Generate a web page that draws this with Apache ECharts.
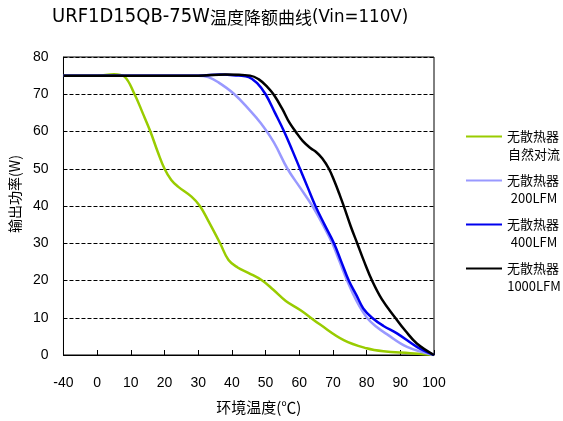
<!DOCTYPE html>
<html><head><meta charset="utf-8">
<script src="https://cdn.jsdelivr.net/npm/echarts@6/dist/echarts.min.js"></script>
<style>html,body{margin:0;padding:0;background:#fff}#c{width:563px;height:421px}</style>
</head><body><div id="c"></div>
<script>
const xTickLabels = ['-40','0','10','20','30','40','50','60','70','80','90','100'];
const yTicks = [0,10,20,30,40,50,60,70,80];
const seriesNames = ['无散热器\n自然对流','无散热器\n200LFM','无散热器\n400LFM','无散热器\n1000LFM'];
const colors = ['#99cc00','#9999ff','#0000ee','#000000'];
// [temperature (°C), power (W)]
const natural = [[-40,75],[0,75],[5,75.4],[8,74.8],[11.1,70],[13.5,65],[15.8,60],[18,54.5],[20,50],[22,47],[24,45.2],[28,42.5],[30.5,40],[33,36],[36.5,30],[39,25.5],[41.7,23.5],[45,22],[49,20],[52.3,17.5],[56,14.5],[60.4,12],[66.3,8.1],[73.2,4],[80,1.8],[85,1],[93,0.5],[100,0]];
const lfm200 = [[-40,75],[0,75],[30,75],[33,74.6],[36,73.2],[40.5,70.2],[45,66],[48.6,62.2],[52.5,57],[56.5,50],[60.2,45],[63.9,40],[67,35],[69.8,30],[72,25],[74.2,20],[77,14.5],[80.1,10],[83,7.5],[86,5.6],[92,2.2],[100,0]];
const lfm400 = [[-40,75],[0,75],[30,75],[36.5,75.3],[42,75],[45,74.6],[47.5,73],[50,70],[52.8,65],[55.5,60],[57.9,55],[60.2,50],[62.5,45],[64.8,40],[67.5,35],[70.3,30],[72.5,25],[74.7,20],[77,16],[79,12.5],[81.6,10],[85,7.8],[89,5.8],[94.9,2.2],[100,0]];
const lfm1000 = [[-40,75],[0,75],[30,75],[38,75.3],[45.4,75],[48,74],[50.5,72],[52.5,69.8],[55,66],[57,62.5],[58.9,60],[61,57.5],[63.4,55.5],[65,54.5],[66.8,52.8],[68.8,50],[70.5,46.5],[72,43],[73.4,39.5],[75.3,34.5],[77.2,30],[79.3,25],[81.6,20],[84.5,15],[88.5,10],[91.5,6.5],[94.9,3.1],[100,0]];
const allData = [natural, lfm200, lfm400, lfm1000];

// broken x-axis: -40 sits one tick left of 0, then 10 °C per tick
function tPos(t){ return t >= 0 ? t/10 + 1 : (t + 40)/40; }

const chart = echarts.init(document.getElementById('c'));
const font = '"Noto Sans CJK SC", "DejaVu Sans", sans-serif';
const latin = '"Liberation Sans", Arial, sans-serif';
const narrow = '"DejaVu Sans Condensed", "DejaVu Sans", sans-serif';
const legendTops = [125, 169, 213, 257];
chart.setOption({
  animation:false,
  title:{text:'{l|URF1D15QB-75W}{c|温度降额曲线}{r|(Vin=110V)}', left:47, top:2,
    textStyle:{fontWeight:'normal', rich:{
      l:{fontFamily:narrow, fontSize:20, fontWeight:'normal', color:'#000'},
      r:{fontFamily:narrow, fontSize:18.5, fontWeight:'normal', color:'#000'},
      c:{fontFamily:font, fontSize:17, fontWeight:'normal', color:'#000', padding:[1,0,0,0]}}}},
  grid:{left:62, right:129, top:57, bottom:66, show:true, borderColor:'#000', borderWidth:1},
  legend: seriesNames.map((n,i)=>({
    data:[n], orient:'vertical', left:461, top:legendTops[i],
    itemWidth:36, itemHeight:14, itemGap:0,
    icon:'path://M0,6L36,6L36,8L0,8Z',
    formatter: (name)=>{ const p=name.split('\n'); return '{a|'+p[0]+'}\n{b|'+p[1]+'}'; },
    textStyle:{fontFamily:font, fontSize:13, color:'#000', padding:[18,0,0,0],
      rich:{a:{fontFamily:font,fontSize:13,width:54,lineHeight:18,color:'#000'},
            b:{fontFamily:font,fontSize:13,width:54,align:'center',lineHeight:18,color:'#000'}}}
  })),
  xAxis:{type:'value', min:0, max:11, interval:1,
    name:'环境温度(℃)', nameLocation:'middle', nameGap:45,
    nameTextStyle:{fontFamily:font, fontSize:15, color:'#000', padding:[0,0,0,20]},
    axisLine:{lineStyle:{color:'#000'}},
    axisTick:{inside:true, length:5, lineStyle:{color:'#000'}},
    axisLabel:{fontFamily:latin, fontSize:14, color:'#000', margin:21,
      formatter:(v)=>xTickLabels[Math.round(v)]},
    splitLine:{show:false}},
  yAxis:{type:'value', min:0, max:80, interval:10,
    name:'输出功率(W)', nameLocation:'middle', nameGap:29,
    nameTextStyle:{fontFamily:font, fontSize:14, color:'#000', padding:[0,0,0,24]},
    axisLine:{show:true, lineStyle:{color:'#000'}},
    axisTick:{show:false},
    axisLabel:{fontFamily:latin, fontSize:14, color:'#000', margin:15,
      formatter:(v)=> yTicks.includes(v) ? String(v) : ''},
    splitLine:{show:true, lineStyle:{color:'#000', type:[4,2], width:1}}},
  series: allData.map((d,i)=>({
    name:seriesNames[i], type:'line', smooth:0.4, symbol:'none',
    color:colors[i], lineStyle:{width:2.5, color:colors[i]},
    data:d.map(p=>[tPos(p[0]), p[1]]), z:2+i
  }))
});
</script></body></html>
